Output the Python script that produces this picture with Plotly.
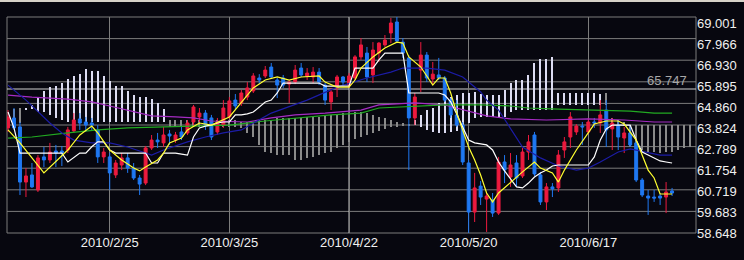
import plotly.graph_objects as go
import pandas as pd

# ---------------- data ----------------
dates = pd.bdate_range("2010-02-02", periods=115)
tick_idx = [17, 37, 57, 77, 97]
tick_labels = [f"{dates[i].year}/{dates[i].month}/{dates[i].day}" for i in tick_idx]

y_tick_vals = [58.648, 59.683, 60.719, 61.754, 62.789, 63.824, 64.860, 65.895, 66.930, 67.966, 69.001]
cursor_price = 65.747
cursor_idx = 57

opens = [63.83, 64.32, 63.88, 61.16, 61.51, 60.77, 62.40, 62.25, 62.69, 62.69,
         62.74, 63.68, 64.27, 64.12, 64.07, 63.73, 62.40, 62.40, 61.51, 62.00,
         62.35, 61.85, 61.36, 61.11, 62.84, 63.23, 63.09, 63.53, 63.23, 63.63,
         63.58, 64.12, 64.37, 64.56, 64.32, 63.63, 63.97, 64.37, 65.20, 65.06,
         65.35, 65.65, 66.29, 66.39, 66.83, 66.19, 66.29, 65.99, 66.09, 66.78,
         66.39, 66.34, 66.58, 65.94, 65.11, 65.80, 66.34, 65.94, 66.29, 67.33,
         67.52, 66.44, 67.52, 67.92, 68.51, 69.05, 68.06, 67.28, 64.32, 66.68,
         67.42, 66.24, 66.44, 66.29, 65.20, 64.47, 63.97, 62.10, 59.68, 60.96,
         60.32, 60.28, 59.63, 62.15, 61.41, 62.10, 61.46, 62.64, 63.48, 61.51,
         60.18, 60.92, 60.87, 62.74, 63.38, 63.63, 63.92, 63.63, 64.12, 64.07,
         64.71, 63.78, 63.97, 63.33, 63.58, 63.09, 61.26, 60.47, 60.42, 60.47,
         60.42, 60.72]
highs = [64.71, 64.81, 64.12, 61.85, 62.10, 62.49, 62.89, 63.09, 62.99, 62.94,
         63.88, 64.56, 64.56, 64.37, 64.32, 63.97, 62.84, 62.59, 62.25, 62.59,
         62.59, 62.10, 61.51, 62.94, 63.48, 63.58, 63.88, 63.73, 63.63, 63.88,
         64.22, 64.96, 64.81, 64.71, 64.47, 64.32, 65.20, 65.35, 65.50, 65.70,
         66.09, 66.53, 66.48, 66.88, 67.03, 66.29, 66.44, 66.19, 66.93, 67.03,
         66.78, 66.83, 66.78, 66.04, 65.80, 66.44, 66.39, 66.53, 67.42, 68.26,
         67.82, 68.06, 68.06, 68.41, 69.25, 69.30, 68.26, 67.42, 65.55, 68.06,
         67.57, 67.08, 67.28, 66.39, 65.30, 65.20, 64.12, 62.25, 61.61, 61.21,
         60.62, 60.62, 62.40, 62.49, 62.59, 62.49, 62.84, 63.48, 63.63, 61.66,
         61.11, 61.11, 62.74, 63.38, 64.61, 64.02, 64.12, 64.32, 64.32, 65.20,
         65.20, 64.32, 64.22, 63.88, 63.97, 63.23, 61.36, 60.77, 60.77, 60.62,
         61.16, 60.87]
lows = [63.63, 63.73, 60.52, 60.42, 60.87, 60.67, 61.90, 62.10, 61.90, 61.95,
        62.59, 63.58, 63.73, 63.63, 63.73, 62.10, 62.10, 60.77, 61.36, 61.75,
        61.61, 61.26, 60.52, 61.01, 62.74, 62.84, 62.89, 62.99, 63.09, 63.23,
        63.48, 63.97, 64.12, 63.73, 63.23, 63.48, 63.83, 64.27, 64.71, 64.91,
        65.20, 65.55, 65.99, 66.29, 66.24, 65.30, 65.80, 65.06, 65.99, 66.34,
        66.19, 66.04, 65.94, 64.96, 64.71, 65.35, 65.94, 65.80, 66.19, 67.18,
        66.09, 66.04, 67.08, 67.82, 68.01, 68.01, 67.28, 61.75, 63.97, 65.60,
        66.09, 65.94, 66.19, 65.11, 64.32, 63.88, 62.00, 58.65, 59.19, 60.03,
        58.70, 59.44, 59.54, 61.11, 60.92, 60.92, 61.36, 62.25, 61.46, 60.03,
        59.78, 60.42, 60.67, 62.35, 62.84, 63.48, 62.99, 63.53, 63.83, 63.58,
        62.89, 62.74, 62.74, 62.59, 62.89, 61.16, 60.42, 59.54, 60.18, 60.03,
        59.63, 60.47]
closes = [64.37, 63.83, 61.16, 61.46, 60.92, 62.35, 62.25, 62.64, 62.59, 62.59,
          63.73, 64.22, 64.07, 63.97, 63.97, 62.40, 62.64, 61.61, 62.10, 62.35,
          61.85, 61.36, 61.06, 62.84, 63.23, 63.14, 63.48, 63.43, 63.48, 63.38,
          64.07, 64.86, 64.56, 63.97, 63.38, 64.12, 64.81, 65.16, 64.91, 65.55,
          65.80, 66.39, 66.19, 66.68, 66.34, 65.94, 65.94, 66.09, 66.68, 66.44,
          66.53, 66.58, 66.09, 65.20, 65.60, 66.34, 66.09, 66.39, 67.33, 67.92,
          66.34, 67.67, 68.01, 68.16, 69.00, 68.11, 67.52, 64.32, 65.35, 67.42,
          66.29, 66.48, 66.29, 65.20, 64.47, 63.97, 62.15, 59.68, 60.87, 60.42,
          60.47, 59.63, 62.15, 61.75, 62.00, 61.36, 62.64, 63.14, 61.56, 60.18,
          60.92, 60.82, 62.49, 63.14, 64.37, 63.92, 63.88, 64.12, 64.07, 64.47,
          63.73, 64.07, 63.38, 63.58, 62.99, 61.26, 60.52, 60.37, 60.37, 60.37,
          60.67, 60.62]

# white (step-like) line, one value per candle
white_line = [64.61, 63.83, 62.59, 62.59, 62.59, 62.59, 62.59, 62.59, 62.59, 62.59,
              62.15, 62.35, 62.59, 62.59, 62.90, 63.14, 63.14, 62.74, 62.59, 62.59,
              62.59, 62.59, 62.59, 62.59, 62.10, 62.10, 62.59, 62.59, 62.59, 62.54,
              62.49, 63.38, 63.83, 63.92, 63.97, 64.07, 64.12, 64.12, 64.47, 64.47,
              64.52, 64.61, 64.86, 65.11, 65.20, 65.55, 66.04, 66.04, 66.04, 66.04,
              66.04, 66.04, 66.04, 65.89, 65.89, 65.89, 65.89, 65.89, 66.78, 66.78,
              66.78, 66.78, 67.18, 67.52, 67.52, 67.52, 67.52, 65.55, 65.55, 65.55,
              65.55, 65.55, 65.55, 65.45, 65.11, 64.52, 63.88, 63.23, 63.09, 63.04,
              62.99, 62.74, 62.15, 61.71, 61.31, 60.92, 60.87, 61.11, 61.41, 61.61,
              61.75, 61.95, 62.00, 62.00, 62.00, 62.00, 62.00, 62.00, 62.40, 63.23,
              63.78, 63.97, 63.97, 63.97, 63.97, 63.23, 62.64, 62.49, 62.35, 62.20,
              62.15, 62.10]

yellow_idx = [0, 2, 4, 6, 10, 12, 14, 15, 17, 19, 21, 22, 23, 25, 26, 27, 29, 30, 32, 34,
              37, 39, 41, 43, 45, 47, 49, 52, 53, 55, 57, 58, 59, 61, 63, 65, 66, 67, 69, 71,
              72, 73, 74, 75, 76, 77, 78, 79, 80, 81, 82, 84, 86, 88, 89, 91, 92, 93, 95, 98,
              100, 102, 103, 105, 106, 107, 108, 109, 110, 111]
yellow_val = [63.73, 63.09, 62.35, 61.61, 62.74, 63.48, 63.92, 63.58, 62.74, 62.25,
              61.85, 61.71, 61.90, 62.25, 62.59, 63.09, 63.33, 63.73, 64.07, 63.97,
              64.37, 65.06, 65.80, 66.19, 66.34, 66.19, 66.34, 66.39, 66.09, 65.84,
              65.84, 66.19, 66.78, 67.33, 67.77, 68.06, 68.01, 67.33, 66.83, 65.94,
              66.29, 66.29, 65.55, 64.56, 63.73, 62.89, 62.25, 61.51, 60.62, 60.18,
              60.62, 61.16, 61.66, 62.15, 61.85, 61.61, 61.16, 61.75, 62.74, 64.02,
              64.17, 64.17, 64.02, 63.23, 62.49, 61.75, 61.36, 60.57, 60.57, 60.57]

blue_idx = [0, 3, 7, 9, 11, 14, 17, 20, 23, 24, 26, 30, 33, 36, 39, 41, 44, 50, 52, 55,
            60, 64, 66, 70, 73, 76, 79, 80, 82, 84, 86, 89, 92, 95, 97, 99, 102, 104, 107, 109, 111]
blue_val = [65.94, 65.20, 64.07, 63.58, 63.23, 63.09, 63.09, 62.89, 62.59, 62.49,
            62.74, 63.14, 63.38, 63.58, 63.73, 64.07, 64.56, 65.20, 65.45, 65.84,
            66.29, 66.58, 66.78, 66.78, 66.68, 66.34, 65.60, 65.20, 64.71, 63.83,
            62.89, 62.35, 61.95, 61.75, 61.85, 62.15, 62.64, 62.79, 62.59, 62.49, 62.49]

purple_idx = [0, 4, 10, 14, 17, 21, 24, 28, 31, 34, 38, 40, 44, 48, 53, 55, 59, 62, 68, 73,
              75, 78, 80, 84, 90, 97, 103, 108, 111]
purple_val = [65.45, 65.35, 65.25, 65.11, 64.91, 64.61, 64.42, 64.37, 64.32, 64.17,
              64.12, 64.12, 64.32, 64.47, 64.56, 64.61, 64.71, 64.96, 65.06, 64.96,
              64.81, 64.56, 64.42, 64.27, 64.22, 64.27, 64.22, 64.12, 64.12]

green_idx = [0, 4, 10, 15, 20, 26, 30, 34, 37, 43, 48, 54, 59, 62, 73, 79, 84, 87, 92, 97,
             104, 108, 111]
green_val = [63.33, 63.38, 63.58, 63.73, 63.83, 63.88, 63.92, 63.92, 63.97, 64.17,
             64.32, 64.47, 64.56, 64.81, 64.96, 64.96, 64.91, 64.81, 64.76, 64.71,
             64.66, 64.56, 64.56]

cloud_idx = list(range(1, 115))
span_a = [64.32, 64.07, 64.81, 64.96, 65.35, 65.65, 65.84, 65.89, 66.04, 66.24,
          66.39, 66.48, 66.73, 66.63, 66.63, 66.39, 66.14, 65.89, 65.89, 65.65,
          65.45, 65.35, 65.35, 65.25, 65.06, 64.76, 63.88, 63.88, 63.88, 63.88,
          63.88, 63.88, 63.88, 63.88, 63.88, 63.88, 63.88, 63.88, 63.83, 63.58,
          63.38, 62.99, 62.64, 62.59, 62.49, 62.49, 62.49, 62.25, 62.25, 62.35,
          62.40, 62.49, 62.59, 62.64, 62.84, 62.99, 63.14, 63.28, 63.38, 63.48,
          63.58, 63.68, 63.78, 63.88, 63.88, 63.92, 63.97, 64.22, 64.47, 64.71,
          64.81, 65.06, 65.20, 65.35, 65.45, 65.55, 65.55, 65.60, 65.50, 65.45,
          65.45, 65.45, 65.70, 66.04, 66.19, 66.19, 66.44, 67.03, 67.23, 67.23,
          67.33, 65.55, 65.55, 65.55, 65.55, 65.55, 65.55, 65.55, 65.50, 64.96,
          64.02, 63.97, 63.92, 62.89, 62.79, 62.74, 62.64, 62.64, 62.59, 62.64,
          62.64, 62.74, 62.84, 62.89]
span_b = [64.76, 64.81, 64.71, 64.76, 64.61, 64.61, 64.47, 64.32, 64.22, 64.12,
          64.12, 64.17, 64.12, 64.12, 64.12, 64.12, 64.12, 64.12, 64.12, 64.12,
          64.12, 64.12, 64.12, 64.12, 64.12, 64.12, 64.22, 64.22, 64.22, 64.22,
          64.22, 64.22, 64.22, 64.22, 64.22, 64.22, 64.22, 64.22, 64.12, 64.12,
          64.12, 64.22, 64.22, 64.22, 64.32, 64.32, 64.32, 64.32, 64.32, 64.37,
          64.37, 64.37, 64.47, 64.47, 64.47, 64.56, 64.56, 64.61, 64.61, 64.56,
          64.47, 64.37, 64.32, 64.22, 64.12, 64.07, 64.02, 63.97, 63.88, 63.73,
          63.63, 63.58, 63.58, 63.63, 63.68, 63.73, 64.07, 64.32, 64.37, 64.37,
          64.37, 64.37, 64.37, 64.61, 64.71, 64.71, 64.71, 64.71, 64.71, 64.71,
          64.71, 64.96, 64.96, 64.96, 64.96, 64.96, 64.96, 64.96, 64.96, 65.55,
          64.32, 64.22, 64.12, 63.97, 63.97, 63.97, 63.97, 63.97, 63.97, 63.97,
          63.97, 63.97, 63.97, 63.97]

# ---------------- style ----------------
BG = "#07070f"
GRID = "#7c7c7c"
CROSS = "#d0d0d0"
FONT = "Liberation Sans Narrow, Arial Narrow, Arial, sans-serif"
RED = "#ec1a3e"
BLUE = "#1f78f2"
CLOUD_UP = "#dcdcf2"
CLOUD_DN = "#8a8a8a"

cloud_base = [min(a, b) for a, b in zip(span_a, span_b)]
cloud_h = [abs(a - b) for a, b in zip(span_a, span_b)]
cloud_col = [CLOUD_UP if a >= b else CLOUD_DN for a, b in zip(span_a, span_b)]

x = list(range(len(opens)))

fig = go.Figure()
fig.add_trace(go.Bar(x=cloud_idx, y=cloud_h, base=cloud_base, width=0.18,
                     marker=dict(color=cloud_col, line=dict(width=0)), showlegend=False))
fig.add_trace(go.Scatter(x=purple_idx, y=purple_val, mode="lines",
                         line=dict(color="#a62cc4", width=1.2), showlegend=False))
fig.add_trace(go.Scatter(x=green_idx, y=green_val, mode="lines",
                         line=dict(color="#22aa22", width=1.2), showlegend=False))
fig.add_trace(go.Candlestick(x=x, open=opens, high=highs, low=lows, close=closes,
                             increasing=dict(line=dict(color=RED, width=1), fillcolor=RED),
                             decreasing=dict(line=dict(color=BLUE, width=1), fillcolor=BLUE),
                             whiskerwidth=0, showlegend=False))
fig.add_trace(go.Scatter(x=blue_idx, y=blue_val, mode="lines",
                         line=dict(color="#1c1ca6", width=1.2), showlegend=False))
fig.add_trace(go.Scatter(x=x, y=white_line, mode="lines",
                         line=dict(color="#ffffff", width=1.2), showlegend=False))
fig.add_trace(go.Scatter(x=yellow_idx, y=yellow_val, mode="lines",
                         line=dict(color="#ffff30", width=1.2), showlegend=False))

shapes = []
for k in range(1, 10):
    shapes.append(dict(type="line", xref="paper", yref="paper", x0=0, x1=1, y0=k / 10, y1=k / 10,
                       line=dict(color=GRID, width=1), layer="below"))
shapes.append(dict(type="rect", xref="paper", yref="paper", x0=0, x1=1, y0=0, y1=1,
                   line=dict(color=GRID, width=1), layer="below"))
shapes.append(dict(type="line", xref="x", yref="paper", x0=cursor_idx, x1=cursor_idx, y0=0, y1=1,
                   line=dict(color=CROSS, width=1), layer="below"))
shapes.append(dict(type="line", xref="paper", yref="y", x0=0, x1=1, y0=cursor_price, y1=cursor_price,
                   line=dict(color=CROSS, width=1), layer="below"))
shapes.append(dict(type="line", xref="paper", yref="paper", x0=-0.02, x1=1.1, y0=1.074, y1=1.074,
                   line=dict(color="#d6d2c8", width=2)))

fig.update_layout(
    width=744, height=260,
    margin=dict(l=7, r=46, t=17, b=27),
    paper_bgcolor=BG, plot_bgcolor=BG,
    showlegend=False, bargap=0,
    shapes=shapes,
    annotations=[dict(x=0.99, y=cursor_price, xref="paper", yref="y", text=f"{cursor_price:.3f}",
                      showarrow=False, xanchor="right", yanchor="bottom", yshift=-1,
                      font=dict(family=FONT, size=13, color="#a8a8a8"))],
    xaxis=dict(range=[-0.17, 115], tickvals=tick_idx, ticktext=tick_labels,
               showgrid=True, gridcolor=GRID, gridwidth=1, zeroline=False,
               rangeslider=dict(visible=False), ticks="", showline=False,
               tickfont=dict(family=FONT, size=13, color="#f0f0f0")),
    yaxis=dict(range=[58.648, 69.297], side="right", tickvals=y_tick_vals,
               ticktext=[f"{v:.3f}" for v in y_tick_vals],
               showgrid=False, zeroline=False, ticks="", showline=False,
               tickfont=dict(family=FONT, size=13, color="#f0f0f0")),
)

fig.write_html("out.html")
